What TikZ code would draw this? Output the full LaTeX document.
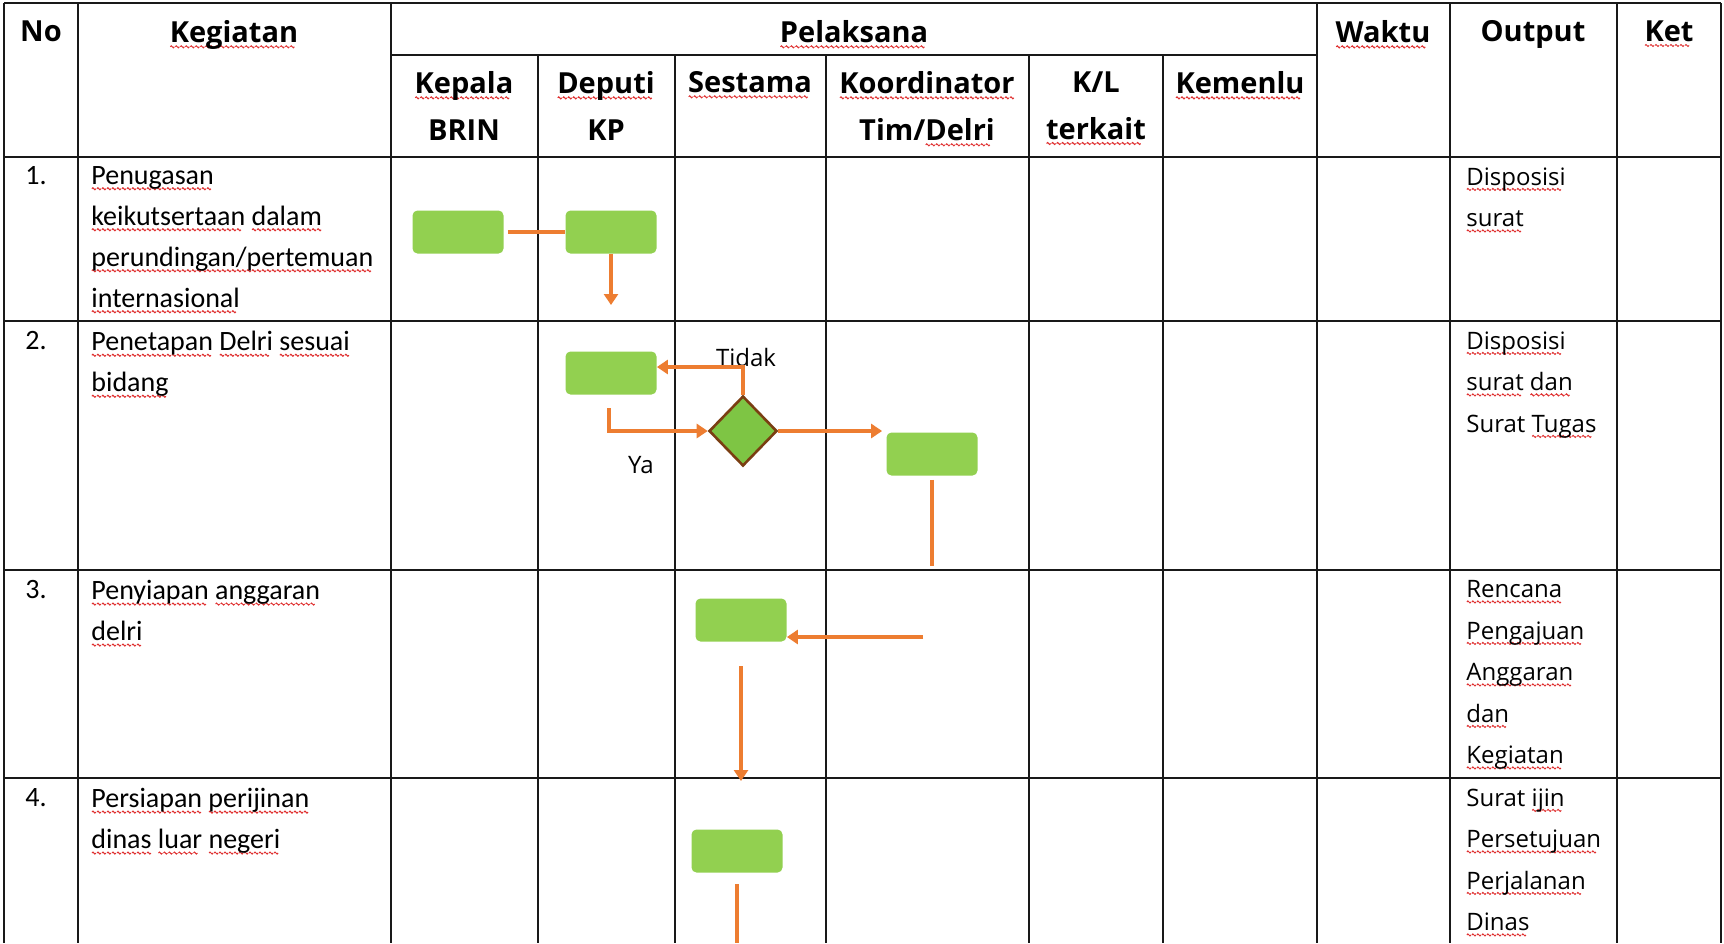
\documentclass[tikz,border=0pt]{standalone}
\usepackage{fontspec}
\setmainfont{Carlito}
\newfontfamily\opfont{Open Sans}
\usetikzlibrary{arrows.meta, shapes.geometric}

\definecolor{boxgreen}{HTML}{92D050}
\definecolor{decgreen}{HTML}{7EC544}
\definecolor{flow}{HTML}{ED7D31}
\definecolor{rim}{HTML}{7A3E12}
\definecolor{spell}{HTML}{E03030}

% red wavy mark under a word
\newcommand\wavebit{\tikz[baseline=0pt]\draw[spell, line width=0.5pt]
   (0pt,0pt) -- (0.5pt,0.5pt) -- (1.5pt,-0.5pt) -- (2pt,0pt);}
\newcommand\sq[1]{\setbox0\hbox{#1}%
   \rlap{\lower2.2pt\hbox to\wd0{\leaders\hbox{\wavebit}\hfill}}\box0\relax}

\begin{document}
\begin{tikzpicture}[x=0.5pt, y=-0.5pt,
   box/.style = {fill=boxgreen, rounded corners=2.5pt, minimum width=45.5pt,
                 minimum height=21.5pt, inner sep=0},
   dec/.style = {diamond, draw=rim, line width=1.3pt, fill=decgreen,
                 minimum width=34pt, minimum height=35pt, inner sep=0},
   ln/.style  = {draw=flow, line width=1.8pt},
   arr/.style = {ln, -{Triangle[width=7pt,length=5.5pt]}},
   grid/.style = {line width=0.8pt, black!90},
   hd/.style  = {font=\opfont\bfseries\fontsize{14.5}{23.5}\selectfont, align=center,
                 inner sep=0, anchor=north},
   kg/.style  = {font=\fontsize{14}{20.5}\selectfont, align=left, inner sep=0,
                 anchor=north west},
   outtxt/.style = {font=\opfont\fontsize{12}{20.75}\selectfont, align=left, inner sep=0,
                 anchor=north west},
   lbl/.style = {font=\opfont\fontsize{12}{14}\selectfont, inner sep=0}]
   \useasboundingbox (0,0) rectangle (1724,943);
   \fill[white] (0,0) rectangle (1724,943);

   % table grid
   \foreach \x in {4,78,391,1317,1450,1617,1721}
      \draw[grid] (\x,3) -- (\x,943);
   \foreach \x in {538,675,826,1029,1163}
      \draw[grid] (\x,55) -- (\x,943);
   \foreach \y in {3,157,321,570,778}
      \draw[grid] (4,\y) -- (1721,\y);
   \draw[grid] (391,55) -- (1317,55);

   % header
   \node[hd] (no)   at (41,20)   {No};
   \node[hd] (keg)  at (234,20)  {\sq{Kegiatan}};
   \node[hd] (pel)  at (854,20)  {\sq{Pelaksana}};
   \node[hd] (wkt)  at (1383,20) {\sq{Waktu}};
   \node[hd] (outp) at (1533,20) {Output};
   \node[hd] (ket)  at (1669,20) {\sq{Ket}};
   \node[hd] (kpl)  at (464,71)  {\sq{Kepala}\\BRIN};
   \node[hd] (dep)  at (606,71)  {\sq{Deputi}\\KP};
   \node[hd] (ses)  at (750,71)  {\sq{Sestama}};
   \node[hd] (kor)  at (927,71)  {\sq{Koordinator}\\Tim/\sq{Delri}};
   \node[hd] (kl)   at (1096,71) {K/L\\\sq{terkait}};
   \node[hd] (kml)  at (1240,71) {\sq{Kemenlu}};

   % rows
   \node[kg] (n1) at (25,166) {1.};
   \node[kg] (t1) at (91,166) {\sq{Penugasan}\\\sq{keikutsertaan} \sq{dalam}\\\sq{perundingan/pertemuan}\\\sq{internasional}};
   \node[outtxt] (o1) at (1466,167) {\sq{Disposisi}\\\sq{surat}};
   \node[kg] (n2) at (25,331) {2.};
   \node[kg] (t2) at (91,331) {\sq{Penetapan} \sq{Delri} \sq{sesuai}\\\sq{bidang}};
   \node[outtxt] (o2) at (1466,331) {\sq{Disposisi}\\\sq{surat} \sq{dan}\\Surat \sq{Tugas}};
   \node[kg] (n3) at (25,580) {3.};
   \node[kg] (t3) at (91,580) {\sq{Penyiapan} \sq{anggaran}\\\sq{delri}};
   \node[outtxt] (o3) at (1466,580) {\sq{Rencana}\\\sq{Pengajuan}\\\sq{Anggaran}\\\sq{dan}\\\sq{Kegiatan}};
   \node[kg] (n4) at (25,788) {4.};
   \node[kg] (t4) at (91,788) {\sq{Persiapan} \sq{perijinan}\\\sq{dinas} \sq{luar} \sq{negeri}};
   \node[outtxt] (o4) at (1466,788) {Surat \sq{ijin}\\\sq{Persetujuan}\\\sq{Perjalanan}\\\sq{Dinas}};

   % flow
   \node[box] (kp1) at (458,232) {};
   \node[box] (dp1) at (611,232) {};
   \node[box] (dp2) at (611,373) {};
   \node[dec] (cek) at (743,431) {};
   \node[box] (ko2) at (932,454) {};
   \node[box] (ss3) at (741,620) {};
   \node[box] (ss4) at (737,851) {};
   \node[lbl] (tdk) at (746,357) {Tidak};
   \node[lbl] (ya)  at (641,465) {Ya};

   \coordinate (d1) at (611,305);
   \coordinate (y0) at (609,408);
   \coordinate (k1) at (932,566);
   \coordinate (k2) at (923,637);
   \coordinate (s1) at (741,666);
   \coordinate (s2) at (741,781);
   \coordinate (s3) at (737,884);
   \coordinate (s4) at (737,943);

   \draw[ln, shorten <=2pt] (kp1) -- (dp1);
   \draw[arr] (dp1) -- (d1);
   \draw[arr] (cek.north) |- ([yshift=3pt]dp2.east);
   \draw[arr] (y0) |- (cek.west);
   \draw[arr, shorten >=2pt] (cek.east) -- (cek.east -| ko2.west);
   \draw[ln, shorten <=2pt] (ko2) -- (k1);
   \draw[arr] (k2) -- (k2 -| ss3.east);
   \draw[arr] (s1) -- (s2);
   \draw[ln] (s3) -- (s4);
\end{tikzpicture}
\end{document}
